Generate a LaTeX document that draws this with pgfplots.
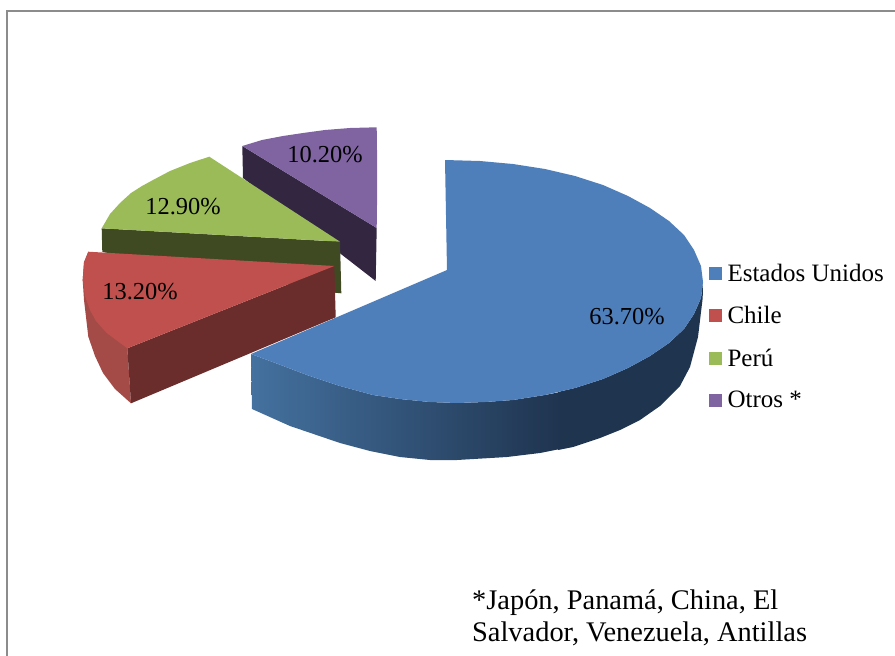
\documentclass[border=0pt]{standalone}
\usepackage{fontspec}
\setmainfont{Liberation Serif}
\usepackage{pgfplots}
\pgfplotsset{compat=1.18}
\definecolor{cblue}{HTML}{4F7FBB}
\definecolor{cred}{HTML}{C0504D}
\definecolor{cgreen}{HTML}{9BBB59}
\definecolor{cpurple}{HTML}{8064A2}
\definecolor{sblueL}{HTML}{44719F}
\definecolor{sblueR}{HTML}{1F344F}
\definecolor{sredO}{HTML}{A44B47}
\definecolor{sredF}{HTML}{6B2C2C}
\definecolor{sgreen}{HTML}{3F4A23}
\definecolor{spurple}{HTML}{322641}
\definecolor{frame}{HTML}{8C8C8C}
\begin{document}
\begin{tikzpicture}[x=1pt,y=1pt]
\path[use as bounding box] (0,0) rectangle (895,656);
\begin{axis}[
  at={(0,0)},anchor=south west,
  width=895pt,height=656pt,scale only axis,
  xmin=0,xmax=895,ymin=0,ymax=656,y dir=reverse,
  hide axis,
  legend cell align=left,
  legend style={at={(axis cs:708.5,264)},anchor=north west,draw=none,fill=none,
    font=\fontsize{25}{28}\selectfont,inner sep=0pt,outer sep=0pt,
    row sep=23.5pt,
    nodes={inner sep=0pt,outer sep=0pt,anchor=west},
    /tikz/every odd column/.style={column sep=6pt}},
  legend image code/.code={\fill[#1] (0pt,-6.5pt) rectangle (13pt,6.5pt);},
  every axis plot/.append style={draw=none,line width=0pt},
]
% frame
\addplot[draw=frame,line width=1.6pt,fill=none,forget plot] coordinates {(7,656)(7,11)(895,11)};
% Otros
\addplot[fill=spurple,forget plot] coordinates {(242.3,146)(243,178)(375.7,281)(376.7,228)} -- cycle;
\addplot[fill=cpurple,forget plot] coordinates {(242.3,146)(262,140)(283,136)(303,133)(325,130)(350,128)(376.7,127.3)(377,150)(377,177)(377,205)(376.7,228)} -- cycle;
% Peru
\addplot[fill=sgreen,forget plot] coordinates {(101.7,228.3)(102.3,252)(335,292.7)(341.3,293.3)(340,241.7)} -- cycle;
\addplot[fill=cgreen,forget plot] coordinates {(101.7,228.3)(110,214)(120,203)(131,193)(142,186)(153,180)(170,171)(190,163)(209.3,156.7)(340,241.7)} -- cycle;
% Chile
\addplot[fill=sredO,forget plot] coordinates {(88.3,251.7)(84,262)(82.7,280)(84,300)(88.3,336.7)(95,356)(103,373)(115,389)(131,403.3)(127.3,348.3)} -- cycle;
\addplot[fill=sredF,forget plot] coordinates {(127.3,348.3)(334.3,266)(335.7,317.3)(131,403.3)} -- cycle;
\addplot[fill=cred,forget plot] coordinates {(88.3,251.7)(334.3,266)(127.3,348.3)(106.7,333)(96,321)(90,310)(85,296)(82.7,280)(84,263)} -- cycle;
% Estados Unidos side
\addplot[fill=sblueR,forget plot] coordinates {(558,392)(575,388)(603,379)(628,368)(650,356)(669,343)(684,329)(694,314)(701,298)(703,282)(702.7,298)(698,337)(690,367)(680,386)(660,406)(640,420)(620,430)(600,438)(573,447)(558,450)} -- cycle;
\addplot[left color=sblueL,right color=sblueR,forget plot] coordinates {(251,354)(278,364)(307,375)(340,386)(373,395)(400,399)(430,402)(457,403)(485,402)(513,400)(545,395)(560,392)(560,449)(540,453)(507,457)(457,460)(430,460)(400,457)(370,451)(340,443)(290,426)(252,409)} -- cycle;
% Estados Unidos top
\addplot[fill=cblue,forget plot] coordinates {(445,160)(480,161)(513,164)(545,169)(575,176)(603,185)(628,196)(650,208)(669,221)(684,235)(694,250)(701,266)(703,282)(701,298)(694,314)(684,329)(669,343)(650,356)(628,368)(603,379)(575,388)(545,395)(513,400)(485,402)(457,403)(430,402)(400,399)(373,395)(340,386)(307,375)(278,364)(251,354)(447,270)} -- cycle;
% legend
\addlegendimage{fill=cblue}\addlegendentry{Estados Unidos}
\addlegendimage{fill=cred}\addlegendentry{Chile}
\addlegendimage{fill=cgreen}\addlegendentry{Perú}
\addlegendimage{fill=cpurple}\addlegendentry{Otros *}
% data labels
\node[font=\fontsize{24.4}{28}\selectfont] at (axis cs:627,317) {63.70\%};
\node[font=\fontsize{24.4}{28}\selectfont] at (axis cs:140,292) {13.20\%};
\node[font=\fontsize{24.4}{28}\selectfont] at (axis cs:183,207) {12.90\%};
\node[font=\fontsize{24.4}{28}\selectfont] at (axis cs:325,155) {10.20\%};
\node[font=\fontsize{28.4}{32}\selectfont,anchor=base west,inner sep=0pt] at (axis cs:472,609) {*Japón, Panamá, China, El};
\node[font=\fontsize{28.4}{32}\selectfont,anchor=base west,inner sep=0pt] at (axis cs:472,641) {Salvador, Venezuela, Antillas};
\end{axis}
\end{tikzpicture}
\end{document}
